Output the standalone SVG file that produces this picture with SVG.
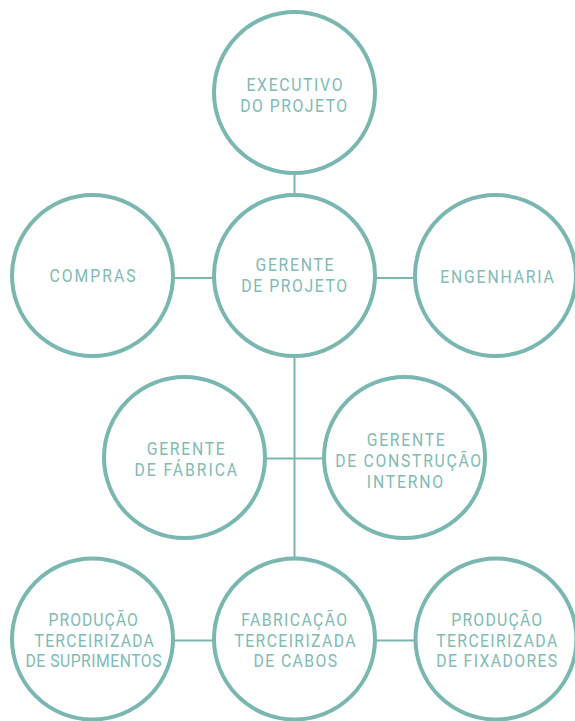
<svg xmlns="http://www.w3.org/2000/svg" width="575" height="721" viewBox="0 0 575 721">
<style>
.n{fill:#fff;stroke:#79b7b0;stroke-width:4}
.c{stroke:#79b7b0;stroke-width:2;fill:none}
text{font-family:Roboto,"Liberation Sans",sans-serif;font-size:17.5px;fill:#80bbb5;text-anchor:middle}
</style>
<rect width="575" height="721" fill="#fff"/>
<g id="connectors">
<line class="c" x1="294.5" y1="170" x2="294.5" y2="196"/>
<line class="c" x1="294.5" y1="354" x2="294.5" y2="560"/>
<line class="c" x1="172" y1="278" x2="216" y2="278"/>
<line class="c" x1="373" y1="278" x2="417" y2="278"/>
<line class="c" x1="263" y1="458.5" x2="326" y2="458.5"/>
<line class="c" x1="172" y1="640.5" x2="216" y2="640.5"/>
<line class="c" x1="373" y1="640.5" x2="418" y2="640.5"/>
</g>
<g id="executivo">
<circle class="n" cx="294.5" cy="92.5" r="80.5"/>
<text transform="translate(294.5 90.7) scale(0.9 1)" textLength="106.7" lengthAdjust="spacing">EXECUTIVO</text>
<text transform="translate(293.7 111.7) scale(0.9 1)" textLength="118.9" lengthAdjust="spacing">DO PROJETO</text>
</g>
<g id="compras">
<circle class="n" cx="92.5" cy="275.5" r="80.5"/>
<text transform="translate(92.5 281.7) scale(0.9 1)" textLength="95.6" lengthAdjust="spacing">COMPRAS</text>
</g>
<g id="gerente-projeto">
<circle class="n" cx="294.5" cy="275.5" r="80.5"/>
<text transform="translate(294.5 270.7) scale(0.9 1)" textLength="86.7" lengthAdjust="spacing">GERENTE</text>
<text transform="translate(294.2 291.7) scale(0.9 1)" textLength="117.8" lengthAdjust="spacing">DE PROJETO</text>
</g>
<g id="engenharia">
<circle class="n" cx="495.5" cy="275.5" r="80.5"/>
<text transform="translate(497 282.7) scale(0.9 1)" textLength="126.2" lengthAdjust="spacing">ENGENHARIA</text>
</g>
<g id="gerente-fabrica">
<circle class="n" cx="184.5" cy="457.5" r="80.5"/>
<text transform="translate(185.7 455) scale(0.9 1)" textLength="86.7" lengthAdjust="spacing">GERENTE</text>
<text transform="translate(185.8 475.7) scale(0.9 1)" textLength="114.1" lengthAdjust="spacing">DE FÁBRICA</text>
</g>
<g id="gerente-construcao">
<circle class="n" cx="404.5" cy="457.5" r="80.5"/>
<text transform="translate(405.7 446) scale(0.9 1)" textLength="86.7" lengthAdjust="spacing">GERENTE</text>
<text transform="translate(408.2 467.3) scale(0.9 1)" textLength="162.2" lengthAdjust="spacing">DE CONSTRUÇÃO</text>
<text transform="translate(405 487.7) scale(0.9 1)" textLength="84.9" lengthAdjust="spacing">INTERNO</text>
</g>
<g id="producao-suprimentos">
<circle class="n" cx="92.5" cy="639" r="80.5"/>
<text transform="translate(93.2 625.7) scale(0.9 1)" textLength="99.2" lengthAdjust="spacing">PRODUÇÃO</text>
<text transform="translate(94.2 647.3) scale(0.9 1)" textLength="132.6" lengthAdjust="spacing">TERCEIRIZADA</text>
<text transform="translate(93.5 667.3) scale(0.9 1)" textLength="151.1" lengthAdjust="spacing">DE SUPRIMENTOS</text>
</g>
<g id="fabricacao-cabos">
<circle class="n" cx="294.5" cy="639" r="80.5"/>
<text transform="translate(294.2 625.7) scale(0.9 1)" textLength="117.8" lengthAdjust="spacing">FABRICAÇÃO</text>
<text transform="translate(295 647.3) scale(0.9 1)" textLength="134.4" lengthAdjust="spacing">TERCEIRIZADA</text>
<text transform="translate(295.3 667.3) scale(0.9 1)" textLength="93" lengthAdjust="spacing">DE CABOS</text>
</g>
<g id="producao-fixadores">
<circle class="n" cx="496" cy="639" r="80.5"/>
<text transform="translate(496.7 625.7) scale(0.9 1)" textLength="101.1" lengthAdjust="spacing">PRODUÇÃO</text>
<text transform="translate(496.7 647.3) scale(0.9 1)" textLength="134.4" lengthAdjust="spacing">TERCEIRIZADA</text>
<text transform="translate(496.7 667.3) scale(0.9 1)" textLength="134.4" lengthAdjust="spacing">DE FIXADORES</text>
</g>
</svg>
